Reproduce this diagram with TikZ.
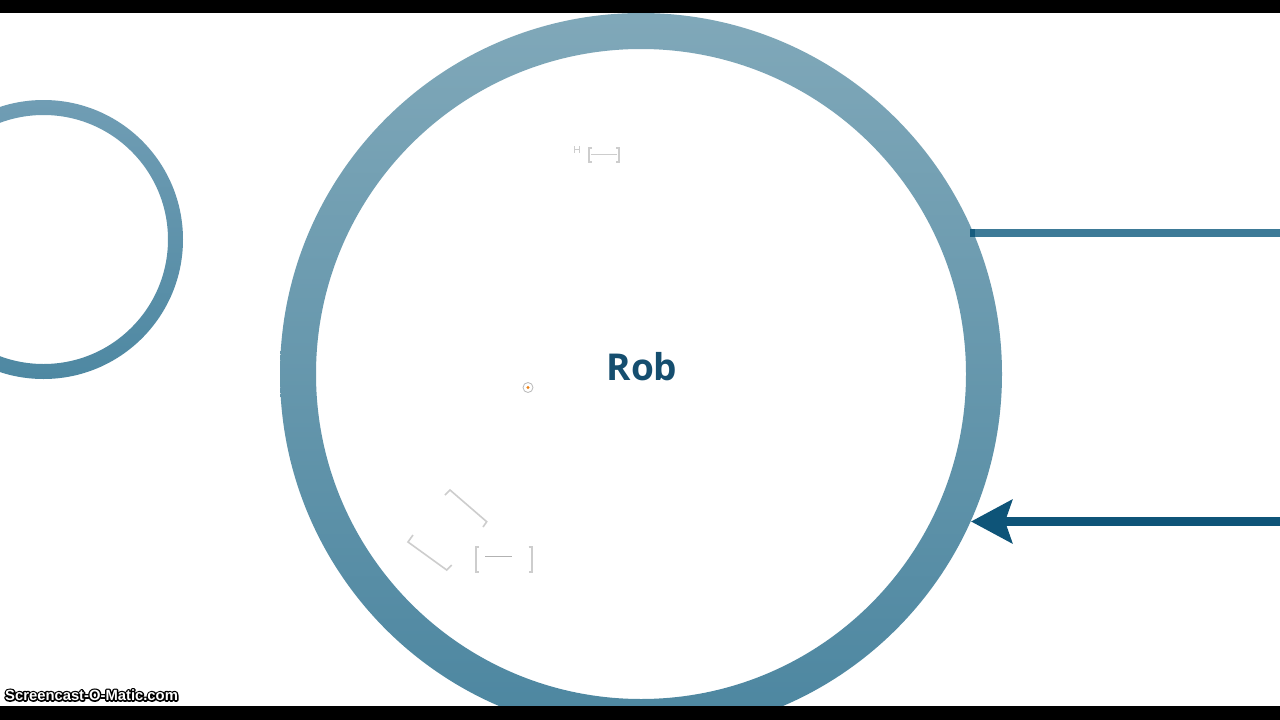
\documentclass[tikz,border=0pt]{standalone}
\usepackage{fontspec}
\usetikzlibrary{arrows.meta}
\newfontfamily\opensans{Open Sans}
\newfontfamily\wmfont{Liberation Sans}
\definecolor{ringtop}{RGB}{128,168,185}
\definecolor{ringbot}{RGB}{76,134,160}
\definecolor{smalltop}{RGB}{112,157,180}
\definecolor{smallbot}{RGB}{78,136,162}
\definecolor{linecol}{RGB}{61,122,151}
\definecolor{arrowcol}{RGB}{14,84,120}
\definecolor{robcol}{RGB}{21,78,111}
\definecolor{faint}{RGB}{205,205,205}
\tikzset{
  faintline/.style={draw=faint, line width=1.6pt},
  wm/.style={font=\wmfont\bfseries\fontsize{14.8}{16}\selectfont, anchor=west, inner sep=0pt},
}
\newcommand{\wmtext}{Screencast-O-Matic.com}
\begin{document}
\begin{tikzpicture}[x=1pt,y=-1pt]
\useasboundingbox (0,0) rectangle (1280,720);
\fill[white] (0,0) rectangle (1280,720);
% big ring
\coordinate (bigc) at (641,374);
\shade[top color=ringtop, bottom color=ringbot, even odd rule]
  (bigc) circle (361) (bigc) circle (325);
% small ring
\coordinate (smallc) at (43.5,239.5);
\shade[top color=smalltop, bottom color=smallbot, even odd rule]
  (smallc) circle (139.5) (smallc) circle (124.5);
% title
\node[text=robcol, font=\opensans\bfseries\fontsize{37}{40}\selectfont, inner sep=0pt] (rob) at (642,367) {Rob};
% small icon
\node[circle, draw=gray!55, line width=0.8pt, minimum size=10pt, inner sep=0pt] (icon) at (528,387.5) {};
\fill[orange!70!brown] (icon.center) circle (1.6);
% faint frames (top)
\draw[faintline] (592,148) -- (589,148) -- (589,162) -- (592,162);
\draw[faintline] (616,148) -- (619,148) -- (619,162) -- (616,162);
\draw[faint, line width=0.6pt] (591,154) -- (617,154);
\draw[faint, line width=0.8pt] (574,146) -- (574,153) (574,149.5) -- (579,149.5) (579,146) -- (579,153);
% faint rotated frame (lower left)
\draw[faintline] (445,495) -- (450,490) -- (486.7,521.7) -- (483,527);
\draw[faintline] (413,535) -- (408,542) -- (446.7,570) -- (451.7,565);
% faint bracket box
\draw[faintline] (479,547) -- (476,547) -- (476,571.7) -- (479,571.7);
\draw[faintline] (528.5,547) -- (531.7,547) -- (531.7,571.7) -- (528.5,571.7);
\draw[gray!60, line width=0.5pt] (485,556) -- (512,556);
% right line
\coordinate (lineL) at (970,233);
\coordinate (lineR) at (1280,233);
\draw[linecol, line width=8pt] (lineL) -- (lineR);
\fill[arrowcol!80!linecol] (970,229) rectangle (975,237);
% arrow
\coordinate (arrS) at (1280,521.5);
\coordinate (arrT) at (971,521.5);
\draw[arrowcol, line width=9pt, -{Stealth[length=41pt,width=43pt,inset=7pt]}] (arrS) -- (arrT);
% black bars
\fill[black] (0,0) rectangle (1280,13);
\fill[black] (0,706) rectangle (1280,720);
% watermark: black stroked outline under white filled text, in one node
\node[wm, text=white] (wm) at (5,695)
  {\rlap{\special{pdf:literal direct 1 Tr 3 w 0 0 0 RG 1 j}\wmtext\special{pdf:literal direct 0 Tr}}\wmtext};
\end{tikzpicture}
\end{document}
